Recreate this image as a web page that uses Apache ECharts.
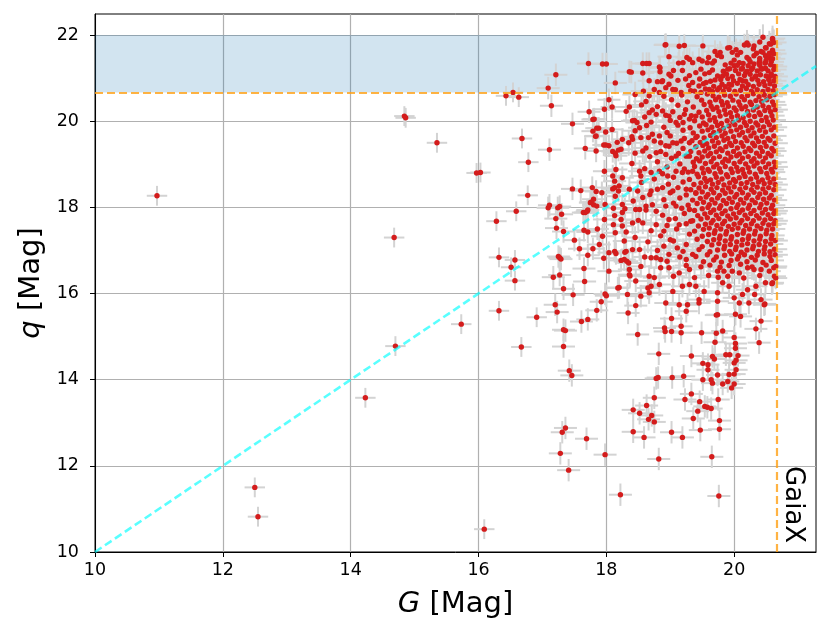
<!DOCTYPE html>
<html>
<head>
<meta charset="utf-8">
<script src="https://cdn.jsdelivr.net/npm/echarts@6/dist/echarts.min.js"></script>
<style>
html, body { margin: 0; padding: 0; background: #fff; }
#chart { width: 831px; height: 641px; }
</style>
</head>
<body>
<div id="chart"></div>
<script>
// axis ranges and tick labels
var xTicks = [10, 12, 14, 16, 18, 20];
var yTicks = [10, 12, 14, 16, 18, 20, 22];
var xRange = [10, 21.28];
var yRange = [10, 22.49];
var gaiaLimit = 20.67;   // G limit, also drawn as q limit
var bandTop = 22;

// error half-widths [G, q] per group
var brightErr = [0.16, 0.23];
var midErr = [0.18, 0.26];
var coreErr = [0.2, 0.3];

// bright isolated sources
var brightPts = [
  [10.97,18.27],[12.5,11.5],[12.55,10.82],[14.23,13.58],[14.68,17.30],[14.70,14.78],[14.84,20.12],[14.86,20.08],
  [15.35,19.50],[15.73,15.29],[15.97,18.80],[16.03,18.81],[16.09,10.53],[16.28,17.68],[16.32,15.60],[16.32,16.84],
  [16.43,20.59],[16.51,16.61],[16.54,20.67],[16.57,16.30],[16.57,16.78],[16.59,17.91],[16.63,20.56],[16.67,14.76],
  [16.68,19.60],[16.77,18.28],[16.78,19.05],[16.91,15.45]
];

// scattered sources around the main cloud
var midPts = [
  [17.09,20.77],[17.09,17.99],[17.11,19.34],[17.11,18.05],[17.14,20.36],[17.17,16.38],[17.20,15.74],[17.21,21.08],
  [17.21,17.74],[17.22,17.52],[17.23,15.57],[17.24,17.99],[17.27,16.83],[17.25,16.86],[17.29,16.80],[17.27,16.43],
  [17.27,18.02],[17.28,12.29],[17.30,17.84],[17.31,12.78],[17.33,14.77],[17.33,16.11],[17.33,17.44],[17.33,15.16],
  [17.36,15.14],[17.36,12.88],[17.41,11.90],[17.42,14.21],[17.46,14.10],[17.47,19.94],[17.47,18.43],[17.48,15.97],
  [17.50,17.24],[17.58,17.04],[17.60,18.39],[17.61,15.35],[17.64,17.88],[17.65,16.58],[17.65,17.47],[17.66,16.28],
  [17.67,19.37],[17.67,17.88],[17.69,12.63],[17.70,17.91],[17.71,15.40],[17.71,17.43],[17.71,16.89],[17.71,17.94],
  [17.72,21.34],[17.73,20.22],[17.75,18.11],[17.76,18.12],[17.78,18.46],[17.79,20.04],[17.79,17.04],[17.79,19.77],
  [17.80,18.06],[17.80,18.19],[17.81,20.05],[17.83,19.65],[17.84,19.31],[17.84,18.37],[17.84,19.66],[17.85,19.84],
  [17.85,15.61],[17.85,18.03],[17.86,17.50],[17.88,19.84],[17.89,17.14],[17.92,15.81],[17.93,18.34],[17.94,21.33],
  [17.94,17.33],[17.96,19.45],[17.96,16.82],[17.97,20.28],[17.97,18.84],[17.97,17.72],[17.98,12.26],[17.98,18.07],
  [17.98,15.99],[17.99,19.45],[17.99,19.75],[18.0,21.33],[18.0,15.95],[18.04,20.50],[18.04,16.52],[18.04,19.43],
  [18.04,16.95],[18.09,20.33],[18.09,19.81],[18.10,19.30],[18.10,18.43],[18.10,18.73],[18.11,17.98],[18.11,17.60],
  [18.13,18.61],[18.13,18.46],[18.13,17.81],[18.13,16.98],[18.14,20.89],[18.14,19.26],[18.14,17.41],[18.14,18.26],
  [18.15,19.20],[18.15,16.93],[18.15,18.88],[18.17,19.51],[18.18,16.13],[18.19,19.33],[18.19,18.38],[18.20,18.50],
  [18.20,16.14],[18.22,11.33],[18.23,17.72],[18.23,16.77],[18.23,19.35],[18.25,19.58],[18.25,17.88],[18.25,17.57],
  [18.25,18.07],[18.25,18.69],[18.28,17.22],[18.28,16.79],[18.29,17.97],[18.29,16.96],[18.31,20.23],[18.31,17.43],
  [18.31,16.98],[18.32,16.75],[18.33,15.98],[18.34,15.55],[18.35,16.71],[18.36,20.33],[18.36,16.56],[18.36,21.15],
  [18.36,16.44],[18.36,18.42],[18.37,16.41],[18.39,21.14],[18.40,19.64],[18.41,20.01],[18.41,19.58],[18.41,17.02],
  [18.41,17.64],[18.42,18.15],[18.42,12.79],[18.42,13.30],[18.44,20.02],[18.46,17.95],[18.46,15.72],[18.46,16.29],
  [18.48,19.97],[18.49,15.05],[18.49,18.38],[18.52,13.22],[18.52,19.85],[18.52,18.84],[18.52,17.02],[18.52,17.95],
  [18.54,19.62],[18.54,18.73],[18.54,16.63],[18.54,15.94],[18.57,19.31],[18.57,18.23],[18.57,17.64],[18.57,21.34],
  [18.57,21.12],[18.59,12.66],[18.62,18.03],[18.63,13.40],[18.63,21.34],[18.65,16.13],[18.66,13.08],[18.67,20.20],
  [18.67,21.34],[18.67,20.94],[18.67,20.59],[18.67,16.40],[18.67,16.02],[18.70,18.81],[18.70,18.38],[18.70,16.83],
  [18.70,16.17],[18.71,13.17],[18.72,19.70],[18.75,13.02],[18.75,13.58],[18.75,20.74],[18.75,16.37],[18.78,14.03],
  [18.78,20.16],[18.78,19.27],[18.78,17.91],[18.78,17.60],[18.78,16.83],[18.80,20.92],[18.81,14.05],[18.82,14.60],
  [18.82,12.16],[18.83,21.26],[18.83,20.67],[18.83,19.66],[18.83,18.84],[18.83,16.21],[18.84,21.24],[18.84,21.15],
  [18.85,19.50],[18.85,16.79],[18.85,16.60],[18.87,20.92],[18.88,20.24],[18.88,20.94],[18.88,18.46],[18.91,15.20],
  [18.92,15.12],[18.92,21.77],[18.93,21.78],[18.93,20.78],[18.93,19.43],[18.93,19.23],[18.93,18.03],[18.93,15.78],
  [18.96,18.73],[18.98,20.12],[18.98,21.50],[18.98,21.09],[18.98,17.72],[18.98,16.91],[18.98,16.60],[19.01,21.05],
  [19.02,12.78],[19.02,15.42],[19.02,15.12],[19.03,14.05],[19.04,20.74],[19.04,19.50],[19.04,18.38],[19.04,16.05],
  [19.05,21.18],[19.09,19.97],[19.09,19.19],[19.09,18.84],[19.09,18.03],[19.11,17.06],[19.13,21.35],[19.14,21.74],
  [19.14,17.60],[19.14,16.48],[19.14,15.74],[19.17,20.67],[19.17,19.54],[19.17,15.09],[19.17,15.24],[19.19,12.66],
  [19.19,21.18],[19.19,18.81],[19.19,16.17],[19.20,21.36],[19.21,14.08],[19.22,21.76],[19.22,20.16],[19.23,13.54],
  [19.24,20.98],[19.25,19.19],[19.25,18.42],[19.25,16.79],[19.25,15.59],[19.26,21.48],[19.27,15.74],[19.30,21.44],
  [19.30,20.05],[19.30,19.50],[19.30,17.95],[19.30,16.56],[19.30,16.21],[19.32,20.71],[19.32,17.68],[19.33,14.55],
  [19.33,13.67],[19.35,21.36],[19.35,20.90],[19.35,18.84],[19.35,16.91],[19.36,13.10],[19.38,16.37],[19.40,21.13],
  [19.40,20.12],[19.40,19.62],[19.40,18.34],[19.40,16.17],[19.43,13.27],[19.45,21.44],[19.45,20.82],[19.45,15.86],
  [19.45,15.78],[19.46,13.49],[19.47,12.83],[19.48,21.21],[19.48,20.67],[19.49,15.09],[19.51,21.75],[19.51,14.38],
  [19.51,14.0],[19.53,16.05],[19.54,13.38],[19.56,20.90],[19.58,21.36],[19.58,13.36],[19.59,14.35],[19.59,14.23],
  [19.60,21.48],[19.61,21.13],[19.61,20.74],[19.64,13.33],[19.64,14.0],[19.65,12.21],[19.66,21.35],[19.66,14.54],
  [19.66,13.92],[19.69,21.40],[19.69,14.48],[19.70,21.62],[19.70,20.96],[19.70,14.87],[19.72,15.08],[19.72,15.50],
  [19.74,21.53],[19.74,14.11],[19.74,16.52],[19.74,16.02],[19.74,15.82],[19.74,15.51],[19.75,13.54],[19.76,11.30],
  [19.77,13.05],[19.77,12.85],[19.77,20.78],[19.78,21.60],[19.82,21.05],[19.82,16.25],[19.82,15.13],[19.82,13.90],
  [19.84,16.52],[19.87,14.58],[19.90,21.21],[19.90,13.96],[19.92,20.86],[19.92,16.17],[19.92,14.12],[19.93,21.71],
  [19.93,14.58],[19.96,13.81],[19.97,21.60],[19.97,16.52],[20.0,21.29],[20.0,15.90],[20.0,14.98],[20.0,14.39],
  [20.0,14.13],[20.0,13.90],[20.02,15.52],[20.02,14.84],[20.02,14.73],[20.03,21.66],[20.03,14.45],[20.03,14.23],
  [20.05,21.54],[20.06,14.56],[20.08,21.36],[20.08,16.48],[20.08,15.78],[20.10,15.47],[20.13,21.23],[20.13,20.94],
  [20.13,15.98],[20.16,21.77],[20.18,21.13],[20.21,16.60],[20.21,16.09],[20.22,21.77],[20.23,21.44],[20.23,15.78],
  [20.29,21.24],[20.31,21.75],[20.31,21.52],[20.31,16.56],[20.32,15.98],[20.34,21.05],[20.34,16.17],[20.34,15.18],
  [20.39,21.36],[20.39,14.86],[20.42,21.62],[20.42,21.21],[20.42,16.56],[20.42,15.86],[20.42,15.36],[20.47,15.74],
  [20.48,15.76],[20.49,21.71],[20.49,21.52],[20.49,21.36],[20.49,21.23],[20.49,16.25],[20.55,21.58],[20.55,21.48],
  [20.55,16.52],[20.57,21.79],[20.57,21.05],[20.59,16.23],[20.60,21.90],[20.60,16.25],[20.63,16.40],[20.65,16.36],
  [20.65,16.63],[18.9,17.45],[19.0,17.25],[18.8,17.0],[18.95,16.75],[19.15,16.85],[19.25,16.65],[19.05,16.4],
  [18.6,16.85],[18.45,17.3],[18.65,17.2]
];

// dense core of faint sources near the limit
var corePts = [
  [20.45,21.95],[20.6,21.92],[20.2,21.82],[20.4,21.84],[20.55,21.8],[20.62,21.83],[19.9,21.7],[20.3,21.68],[20.5,21.7],
  [20.6,21.65],[20.1,21.6],[20.35,21.58],[20.45,21.6],[20.55,21.55],[20.62,21.57],[19.8,21.5],[20.2,21.48],[20.4,21.46],
  [20.5,21.42],[20.6,21.45],[19.5,21.4],[20.0,21.42],[20.25,21.38],[20.4,21.4],[20.58,21.38],
  [19.86,21.31],[19.95,21.35],[20.05,21.30],[20.14,21.34],[20.22,21.29],[20.31,21.33],[20.40,21.30],[20.48,21.35],[20.57,21.31],[20.63,21.27],
  [19.66,21.19],[19.83,21.16],[19.93,21.22],[20.02,21.18],[20.11,21.21],[20.2,21.16],[20.27,21.2],[20.36,21.17],[20.44,21.22],[20.53,21.17],[20.62,21.2],
  [19.3,21.06],[19.54,21.1],[19.74,21.05],[19.88,21.09],[19.97,21.04],[20.07,21.1],[20.16,21.06],[20.25,21.09],[20.33,21.03],[20.41,21.08],[20.5,21.05],[20.58,21.1],[20.64,21.04],
  [19.12,20.95],[19.46,20.98],[19.63,20.93],[19.79,20.97],[19.9,20.99],[19.99,20.94],[20.09,20.97],[20.18,20.93],[20.28,20.98],[20.37,20.95],[20.46,20.92],[20.54,20.97],[20.62,20.94],
  [18.98,20.86],[19.29,20.83],[19.52,20.87],[19.68,20.81],[19.81,20.86],[19.86,20.8],[19.96,20.84],[20.05,20.88],[20.13,20.82],[20.22,20.85],[20.3,20.81],[20.39,20.86],[20.48,20.83],[20.56,20.87],[20.63,20.82],
  [18.58,20.7],[19.08,20.73],[19.38,20.7],[19.55,20.75],[19.66,20.69],[19.74,20.73],[19.83,20.7],[19.92,20.74],[20.01,20.69],[20.1,20.72],[20.19,20.76],[20.27,20.7],[20.36,20.73],[20.45,20.69],[20.53,20.74],[20.61,20.71],
  [18.45,20.62],[18.9,20.58],[19.18,20.61],[19.42,20.57],[19.58,20.63],[19.67,20.59],[19.76,20.56],[19.85,20.61],[19.94,20.58],[20.03,20.63],[20.12,20.57],[20.21,20.6],[20.3,20.64],[20.39,20.57],[20.47,20.61],[20.56,20.58],[20.63,20.62],
  [18.62,20.46],[19.02,20.5],[19.27,20.45],[19.49,20.49],[19.62,20.44],[19.71,20.5],[19.8,20.46],[19.89,20.43],[19.98,20.49],[20.07,20.45],[20.16,20.5],[20.25,20.44],[20.34,20.48],[20.43,20.46],[20.51,20.5],[20.6,20.45],
  [18.55,20.38],[18.8,20.34],[19.12,20.37],[19.36,20.33],[19.53,20.39],[19.64,20.35],[19.73,20.32],[19.82,20.38],[19.91,20.35],[20.0,20.31],[20.09,20.37],[20.18,20.34],[20.27,20.39],[20.36,20.33],[20.45,20.36],[20.54,20.32],[20.62,20.38],
  [18.72,20.26],[19.04,20.22],[19.24,20.27],[19.45,20.21],[19.57,20.25],[19.67,20.28],[19.76,20.22],[19.85,20.26],[19.94,20.2],[20.03,20.25],[20.12,20.29],[20.21,20.23],[20.3,20.26],[20.39,20.2],[20.48,20.25],[20.57,20.22],[20.64,20.27],
  [18.6,20.1],[18.93,20.14],[19.15,20.09],[19.33,20.13],[19.5,20.1],[19.6,20.15],[19.69,20.08],[19.78,20.12],[19.87,20.16],[19.96,20.1],[20.05,20.13],[20.14,20.08],[20.23,20.14],[20.32,20.11],[20.41,20.15],[20.5,20.09],[20.59,20.13],
  [18.7,19.98],[19.0,20.02],[19.2,19.97],[19.38,20.01],[19.52,19.96],[19.62,20.03],[19.71,19.99],[19.8,19.95],[19.89,20.01],[19.98,19.98],[20.07,20.03],[20.16,19.97],[20.25,20.0],[20.34,19.96],[20.43,20.02],[20.52,19.99],[20.61,20.03],
  [18.63,19.9],[18.9,19.86],[19.12,19.91],[19.31,19.85],[19.46,19.89],[19.56,19.92],[19.65,19.86],[19.74,19.9],[19.83,19.84],[19.92,19.89],[20.01,19.92],[20.1,19.86],[20.19,19.9],[20.28,19.85],[20.37,19.91],[20.46,19.87],[20.55,19.92],[20.63,19.86],
  [18.45,19.78],[18.95,19.74],[19.2,19.79],[19.36,19.73],[19.5,19.77],[19.59,19.8],[19.68,19.74],[19.77,19.78],[19.86,19.72],[19.95,19.77],[20.04,19.8],[20.13,19.74],[20.22,19.78],[20.31,19.73],[20.4,19.79],[20.49,19.75],[20.58,19.8],
  [18.66,19.62],[19.0,19.66],[19.22,19.6],[19.42,19.65],[19.53,19.61],[19.63,19.67],[19.72,19.62],[19.81,19.66],[19.9,19.6],[19.99,19.64],[20.08,19.68],[20.17,19.62],[20.26,19.66],[20.35,19.61],[20.44,19.65],[20.53,19.6],[20.62,19.66],
  [18.35,19.5],[18.75,19.54],[19.1,19.49],[19.34,19.55],[19.47,19.51],[19.57,19.48],[19.66,19.54],[19.75,19.5],[19.84,19.56],[19.93,19.49],[20.02,19.53],[20.11,19.5],[20.2,19.55],[20.29,19.49],[20.38,19.53],[20.47,19.51],[20.56,19.56],[20.64,19.49],
  [18.62,19.38],[18.98,19.42],[19.2,19.37],[19.4,19.41],[19.51,19.44],[19.6,19.38],[19.69,19.42],[19.78,19.36],[19.87,19.41],[19.96,19.44],[20.05,19.38],[20.14,19.42],[20.23,19.37],[20.32,19.43],[20.41,19.39],[20.5,19.42],[20.59,19.37],
  [18.45,19.26],[18.85,19.3],[19.13,19.25],[19.32,19.3],[19.45,19.27],[19.54,19.31],[19.63,19.25],[19.72,19.29],[19.81,19.32],[19.9,19.26],[19.99,19.3],[20.08,19.24],[20.17,19.29],[20.26,19.32],[20.35,19.26],[20.44,19.3],[20.53,19.25],[20.62,19.31],
  [18.68,19.18],[19.02,19.14],[19.3,19.19],[19.41,19.13],[19.5,19.17],[19.59,19.2],[19.68,19.14],[19.77,19.18],[19.86,19.12],[19.95,19.17],[20.04,19.2],[20.13,19.14],[20.22,19.18],[20.31,19.13],[20.4,19.19],[20.49,19.15],[20.58,19.2],
  [18.4,19.02],[18.8,19.06],[19.15,19.01],[19.36,19.05],[19.46,19.08],[19.55,19.02],[19.64,19.06],[19.73,19.0],[19.82,19.05],[19.91,19.08],[20.0,19.02],[20.09,19.06],[20.18,19.01],[20.27,19.07],[20.36,19.03],[20.45,19.06],[20.54,19.01],[20.63,19.05],
  [18.6,18.9],[18.95,18.94],[19.22,18.89],[19.38,18.95],[19.5,18.91],[19.59,18.88],[19.68,18.94],[19.77,18.9],[19.86,18.95],[19.95,18.89],[20.04,18.93],[20.13,18.88],[20.22,18.92],[20.31,18.96],[20.4,18.9],[20.49,18.93],[20.58,18.88],[20.64,18.94],
  [18.88,18.78],[19.28,18.82],[19.42,18.77],[19.52,18.8],[19.61,18.84],[19.7,18.78],[19.79,18.82],[19.88,18.76],[19.97,18.81],[20.06,18.84],[20.15,18.78],[20.24,18.82],[20.33,18.77],[20.42,18.83],[20.51,18.79],[20.6,18.82],
  [18.75,18.66],[19.05,18.7],[19.3,18.65],[19.44,18.71],[19.54,18.67],[19.63,18.64],[19.72,18.7],[19.81,18.66],[19.9,18.71],[19.99,18.65],[20.08,18.69],[20.17,18.72],[20.26,18.66],[20.35,18.7],[20.44,18.64],[20.53,18.69],[20.62,18.66],
  [18.55,18.58],[18.97,18.54],[19.2,18.59],[19.37,18.53],[19.48,18.57],[19.57,18.6],[19.66,18.54],[19.75,18.58],[19.84,18.52],[19.93,18.57],[20.02,18.6],[20.11,18.55],[20.2,18.58],[20.29,18.53],[20.38,18.59],[20.47,18.55],[20.56,18.58],[20.64,18.53],
  [18.8,18.42],[19.12,18.46],[19.32,18.41],[19.45,18.45],[19.55,18.48],[19.64,18.42],[19.73,18.46],[19.82,18.4],[19.91,18.45],[20.0,18.48],[20.09,18.42],[20.18,18.46],[20.27,18.41],[20.36,18.47],[20.45,18.43],[20.54,18.46],[20.62,18.41],
  [18.68,18.3],[19.0,18.34],[19.25,18.29],[19.4,18.33],[19.5,18.36],[19.59,18.3],[19.68,18.34],[19.77,18.28],[19.86,18.33],[19.95,18.36],[20.04,18.3],[20.13,18.34],[20.22,18.29],[20.31,18.35],[20.4,18.31],[20.49,18.34],[20.58,18.28],
  [18.9,18.18],[19.15,18.22],[19.35,18.17],[19.47,18.21],[19.56,18.24],[19.65,18.18],[19.74,18.22],[19.83,18.16],[19.92,18.21],[20.01,18.24],[20.1,18.18],[20.19,18.22],[20.28,18.17],[20.37,18.23],[20.46,18.19],[20.55,18.22],[20.63,18.17],
  [18.72,18.06],[19.05,18.1],[19.28,18.05],[19.42,18.09],[19.52,18.12],[19.61,18.06],[19.7,18.1],[19.79,18.04],[19.88,18.09],[19.97,18.12],[20.06,18.06],[20.15,18.1],[20.24,18.05],[20.33,18.11],[20.42,18.07],[20.51,18.1],[20.6,18.05],
  [18.62,17.94],[19.18,17.98],[19.38,17.93],[19.5,17.97],[19.59,18.0],[19.68,17.94],[19.77,17.98],[19.86,17.92],[19.95,17.97],[20.04,18.0],[20.13,17.94],[20.22,17.98],[20.31,17.93],[20.4,17.99],[20.49,17.95],[20.58,17.98],[20.64,17.92],
  [18.88,17.82],[19.22,17.86],[19.43,17.81],[19.54,17.85],[19.63,17.88],[19.72,17.82],[19.81,17.86],[19.9,17.8],[19.99,17.85],[20.08,17.88],[20.17,17.82],[20.26,17.86],[20.35,17.81],[20.44,17.87],[20.53,17.83],[20.62,17.86],
  [18.5,17.7],[19.08,17.74],[19.35,17.69],[19.48,17.73],[19.58,17.76],[19.67,17.7],[19.76,17.74],[19.85,17.68],[19.94,17.73],[20.03,17.76],[20.12,17.7],[20.21,17.74],[20.3,17.69],[20.39,17.75],[20.48,17.71],[20.57,17.74],[20.64,17.69],
  [18.95,17.58],[19.25,17.62],[19.44,17.57],[19.55,17.61],[19.64,17.64],[19.73,17.58],[19.82,17.62],[19.91,17.56],[20.0,17.61],[20.09,17.64],[20.18,17.58],[20.27,17.62],[20.36,17.57],[20.45,17.63],[20.54,17.59],[20.62,17.62],
  [18.7,17.46],[19.1,17.5],[19.38,17.45],[19.52,17.49],[19.61,17.52],[19.7,17.46],[19.79,17.5],[19.88,17.44],[19.97,17.49],[20.06,17.52],[20.15,17.46],[20.24,17.5],[20.33,17.45],[20.42,17.51],[20.51,17.47],[20.6,17.5],
  [18.85,17.34],[19.3,17.38],[19.5,17.33],[19.6,17.37],[19.69,17.4],[19.78,17.34],[19.87,17.38],[19.96,17.32],[20.05,17.37],[20.14,17.4],[20.23,17.34],[20.32,17.38],[20.41,17.33],[20.5,17.39],[20.59,17.35],
  [19.05,17.22],[19.42,17.26],[19.58,17.21],[19.68,17.25],[19.77,17.28],[19.86,17.22],[19.95,17.26],[20.04,17.2],[20.13,17.25],[20.22,17.28],[20.31,17.22],[20.4,17.26],[20.49,17.21],[20.58,17.27],[20.64,17.23],
  [18.9,17.1],[19.25,17.14],[19.5,17.09],[19.65,17.13],[19.76,17.16],[19.85,17.1],[19.94,17.14],[20.03,17.08],[20.12,17.13],[20.21,17.16],[20.3,17.1],[20.39,17.14],[20.48,17.09],[20.57,17.15],
  [19.2,16.98],[19.45,17.02],[19.62,16.97],[19.74,17.01],[19.84,17.04],[19.93,16.98],[20.02,17.02],[20.11,16.96],[20.2,17.01],[20.29,17.04],[20.38,16.98],[20.47,17.02],[20.56,16.97],[20.63,17.03],
  [19.4,16.86],[19.58,16.9],[19.72,16.85],[19.85,16.89],[19.96,16.92],[20.07,16.86],[20.16,16.9],[20.27,16.84],[20.36,16.89],[20.47,16.92],[20.56,16.86],[20.64,16.9],
  [19.52,16.74],[19.68,16.78],[19.8,16.73],[19.95,16.77],[20.05,16.8],[20.2,16.74],[20.33,16.78],[20.45,16.72],[20.58,16.77],
  [19.48,16.62],[19.62,16.66],[19.78,16.61],[19.92,16.65],[20.1,16.68],[20.28,16.62],[20.5,16.66],[20.62,16.6],
  [19.6,16.42],[19.75,16.38],[19.9,16.4],[20.15,16.36],[20.4,16.42]
];

var FONT = 'DejaVu Sans';

function withErr(pts, err) {
  return pts.map(function (p) { return [p[0], p[1], err[0], err[1]]; });
}
var errData = withErr(brightPts, brightErr)
  .concat(withErr(midPts, midErr))
  .concat(withErr(corePts, coreErr));
var allPts = brightPts.concat(midPts).concat(corePts);
var oneToOne = xRange.map(function (v) { return [v, v]; });

function renderErr(params, api) {
  var x = api.value(0), y = api.value(1), ex = api.value(2), ey = api.value(3);
  var l = api.coord([x - ex, y]), r = api.coord([x + ex, y]);
  var t = api.coord([x, y + ey]), b = api.coord([x, y - ey]);
  var st = { stroke: '#d3d3d3', lineWidth: 2 };
  return {
    type: 'group',
    children: [
      { type: 'line', shape: { x1: l[0], y1: l[1], x2: r[0], y2: r[1] }, style: st },
      { type: 'line', shape: { x1: t[0], y1: t[1], x2: b[0], y2: b[1] }, style: st }
    ]
  };
}

var chart = echarts.init(document.getElementById('chart'));
var option = {
  animation: false,
  backgroundColor: '#fff',
  textStyle: { fontFamily: FONT },
  grid: {
    left: 95, right: 15, top: 14, bottom: 89,
    show: true, borderColor: '#000', borderWidth: 1
  },
  xAxis: {
    type: 'value',
    min: xRange[0], max: xRange[1], interval: 2,
    name: '{i|G} [Mag]',
    nameLocation: 'middle',
    nameGap: 38,
    nameTextStyle: {
      fontSize: 29, color: '#000', fontFamily: FONT,
      rich: { i: { fontSize: 29, fontStyle: 'italic', color: '#000', fontFamily: FONT } }
    },
    axisLine: { show: true, onZero: false, lineStyle: { color: '#000', width: 1 } },
    axisTick: { show: true, length: 5, customValues: xTicks, lineStyle: { color: '#000' } },
    axisLabel: { customValues: xTicks, fontSize: 17.5, color: '#000', margin: 9, fontFamily: FONT },
    splitLine: { show: true, lineStyle: { color: '#b0b0b0', width: 1.2 } }
  },
  yAxis: {
    type: 'value',
    min: yRange[0], max: yRange[1], interval: 2,
    name: '{i|q} [Mag]',
    nameLocation: 'middle',
    nameGap: 45,
    nameTextStyle: {
      fontSize: 29, color: '#000', fontFamily: FONT,
      rich: { i: { fontSize: 29, fontStyle: 'italic', color: '#000', fontFamily: FONT } }
    },
    axisLine: { show: true, onZero: false, lineStyle: { color: '#000', width: 1 } },
    axisTick: { show: true, length: 5, customValues: yTicks, lineStyle: { color: '#000' } },
    axisLabel: { customValues: yTicks, fontSize: 17.5, color: '#000', margin: 16, fontFamily: FONT },
    splitLine: { show: true, lineStyle: { color: '#b0b0b0', width: 1.2 } }
  },
  series: [
    {
      type: 'line', data: [], z: 1, silent: true,
      markArea: {
        silent: true,
        itemStyle: { color: 'rgba(31,119,180,0.2)' },
        data: [[{ yAxis: gaiaLimit }, { yAxis: bandTop }]]
      }
    },
    {
      type: 'custom', renderItem: renderErr, data: errData,
      encode: { x: 0, y: 1 }, clip: true, z: 2, silent: true
    },
    {
      type: 'line', data: [], z: 3, silent: true,
      markLine: {
        silent: true, symbol: ['none', 'none'], label: { show: false },
        lineStyle: { color: 'rgba(255,160,20,0.8)', width: 2.2, type: [8, 4] },
        data: [{ xAxis: gaiaLimit }, { yAxis: gaiaLimit }]
      }
    },
    {
      type: 'scatter', data: allPts, symbolSize: 5.4, z: 4, silent: true,
      itemStyle: { color: '#d41c1c', opacity: 1 }
    },
    {
      type: 'line', data: oneToOne, z: 5, silent: true, symbol: 'none',
      lineStyle: { color: 'rgba(0,255,255,0.65)', width: 2.6, type: [8, 4] }
    }
  ]
};
chart.setOption(option);

var gPos = chart.convertToPixel({ gridIndex: 0 }, [gaiaLimit, 11.1]);
chart.setOption({
  graphic: [{
    type: 'text',
    x: gPos[0] + 16, y: gPos[1],
    rotation: -Math.PI / 2,
    silent: true,
    style: {
      text: 'GaiaX', fontSize: 26, fontFamily: FONT, fill: '#000',
      align: 'center', verticalAlign: 'middle'
    }
  }]
});
</script>
</body>
</html>
